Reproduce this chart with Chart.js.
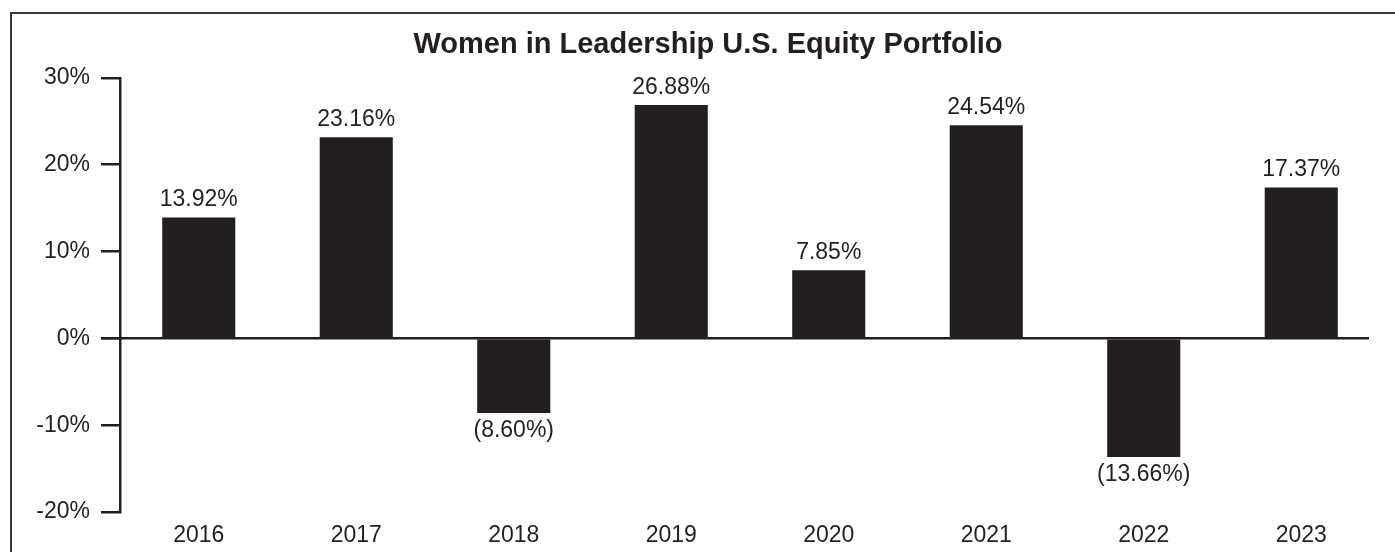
<!DOCTYPE html>
<html>
<head>
<meta charset="utf-8">
<script src="https://cdn.jsdelivr.net/npm/chart.js@4.4.0/dist/chart.umd.min.js"></script>
<style>
  html, body { margin: 0; padding: 0; background: #fff; overflow: hidden; }
  #wrap { position: relative; width: 1395px; height: 552px; }
  #frame { position: absolute; left: 10px; top: 12px; width: 1500px; height: 700px; border: 2px solid #3a3a3a; box-sizing: border-box; }
  canvas { position: absolute; left: 0; top: 0; }
</style>
</head>
<body>
<div id="wrap">
  <div id="frame"></div>
  <canvas id="retornoChart" width="1395" height="552"></canvas>
</div>
<script>
const anos = ['2016', '2017', '2018', '2019', '2020', '2021', '2022', '2023'];
const retornos = [13.92, 23.16, -8.60, 26.88, 7.85, 24.54, -13.66, 17.37];
const ticksY = [-20, -10, 0, 10, 20, 30];

const COR = '#231f20';
const FONTE = '"Liberation Sans", Arial, Helvetica, sans-serif';

function formatarRetorno(v) {
    return v < 0 ? '(' + Math.abs(v).toFixed(2) + '%)' : v.toFixed(2) + '%';
}

// linha do zero + rótulos das barras
const rotulosPlugin = {
    id: 'rotulos',
    afterDatasetsDraw(chart) {
        const ctx = chart.ctx;
        const y = chart.scales.y;
        const area = chart.chartArea;
        const y0 = y.getPixelForValue(0);
        ctx.save();
        ctx.strokeStyle = COR;
        ctx.lineWidth = 2.5;
        ctx.beginPath();
        ctx.moveTo(y.right - 19, y0);
        ctx.lineTo(area.right - 11, y0);
        ctx.stroke();

        ctx.fillStyle = COR;
        ctx.font = '23px ' + FONTE;
        ctx.textAlign = 'center';
        chart.getDatasetMeta(0).data.forEach((bar, i) => {
            const v = retornos[i];
            if (v >= 0) {
                ctx.textBaseline = 'bottom';
                ctx.fillText(formatarRetorno(v), bar.x, bar.y - 6);
            } else {
                ctx.textBaseline = 'top';
                ctx.fillText(formatarRetorno(v), bar.x, bar.y + 6);
            }
        });
        ctx.restore();
    }
};

document.addEventListener('DOMContentLoaded', function() {
    const el = document.getElementById('retornoChart');
    new Chart(el.getContext('2d'), {
        type: 'bar',
        data: {
            labels: anos,
            datasets: [{
                data: retornos,
                backgroundColor: COR,
                borderWidth: 0,
                barPercentage: 0.464,
                categoryPercentage: 1
            }]
        },
        options: {
            responsive: false,
            animation: false,
            layout: { padding: { left: 36, right: 15, top: 28, bottom: 2 } },
            scales: {
                x: {
                    grid: { display: false, drawTicks: false },
                    border: { display: false },
                    ticks: { color: COR, font: { family: FONTE, size: 23 }, padding: 10, maxRotation: 0 },
                    afterFit(scale) {
                        scale.height = 38;
                    }
                },
                y: {
                    min: -20,
                    max: 30,
                    afterBuildTicks(scale) {
                        scale.ticks = ticksY.map(v => ({ value: v }));
                    },
                    afterFit(scale) {
                        scale.width = 84;
                    },
                    grid: { drawOnChartArea: false, tickLength: 19, tickColor: COR, lineWidth: 2.5 },
                    border: { display: true, color: COR, width: 2.5 },
                    ticks: {
                        color: COR,
                        padding: 11,
                        font: { family: FONTE, size: 23 },
                        callback: v => v + '%'
                    }
                }
            },
            plugins: {
                legend: { display: false },
                tooltip: { enabled: false },
                title: {
                    display: true,
                    text: 'Women in Leadership U.S. Equity Portfolio',
                    color: COR,
                    font: { family: FONTE, size: 29, weight: 'bold' },
                    padding: { top: 0, bottom: 15 }
                }
            }
        },
        plugins: [rotulosPlugin]
    });
});
</script>
</body>
</html>
